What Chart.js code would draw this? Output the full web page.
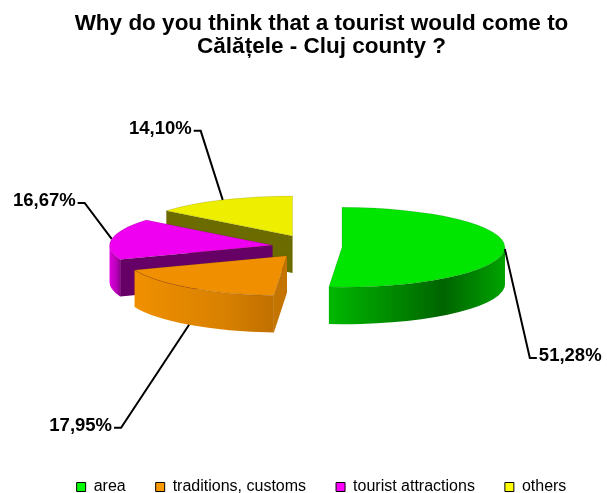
<!DOCTYPE html>
<html>
<head>
<meta charset="utf-8">
<script src="https://cdn.jsdelivr.net/npm/chart.js@4.4.1/dist/chart.umd.min.js"></script>
<style>
  html, body { margin: 0; padding: 0; background: #fff; }
  canvas { display: block; }
</style>
</head>
<body>
<canvas id="pie3d" width="607" height="493"></canvas>
<script>
var categories = ['area', 'traditions, customs', 'tourist attractions', 'others'];
var shares = [51.28, 17.95, 16.67, 14.10];

// slice styling: top face, outer wall shading (left, middle, right), radial cut face, legend swatch
var topColors = ['#00e600', '#f09000', '#f000f0', '#eeee00'];
var wallColors = [
  ['#00b800', '#006400', '#00a400'],
  ['#f09000', '#d88000', '#c07000'],
  ['#e000e0', '#b800b8', '#900090'],
  ['#cccc00', '#999900', '#777700']
];
var cutColors = ['#005c00', '#c47400', '#660066', '#6b6b00'];
var swatchColors = ['#00ff00', '#ff9900', '#ff00ff', '#ffff00'];

// leader line elbow relative to the slice anchor, and which side the text sits on
var leaders = [[25, 109, 1], [-68, 103, -1], [-27, -36, -1], [-22, -69, -1]];

Chart.defaults.font.family = '"Liberation Sans", Arial, sans-serif';

function formatShare(v) {
  return v.toFixed(2).replace('.', ',') + '%';
}

function drawSlice(ctx, s, k, depth) {
  var rx = s.r, ry = s.r * k;
  function pt(a) { return [s.cx + rx * Math.cos(a), s.cy + ry * Math.sin(a)]; }

  // radial cut faces, only the ones turned towards the viewer
  [[s.a0, Math.cos(s.a0) < 0], [s.a1, Math.cos(s.a1) > 0]].forEach(function (e) {
    if (!e[1]) return;
    var p = pt(e[0]);
    ctx.beginPath();
    ctx.moveTo(s.cx, s.cy);
    ctx.lineTo(p[0], p[1]);
    ctx.lineTo(p[0], p[1] + depth);
    ctx.lineTo(s.cx, s.cy + depth);
    ctx.closePath();
    ctx.fillStyle = cutColors[s.i];
    ctx.fill();
  });

  // outer wall, front half of the rim
  var w0 = Math.max(s.a0, 0), w1 = Math.min(s.a1, Math.PI);
  if (w1 > w0) {
    var xa = pt(w0)[0], xb = pt(w1)[0];
    var g = ctx.createLinearGradient(Math.min(xa, xb), 0, Math.max(xa, xb), 0);
    var wc = wallColors[s.i];
    g.addColorStop(0, wc[0]);
    g.addColorStop(0.65, wc[1]);
    g.addColorStop(1, wc[2]);
    ctx.beginPath();
    ctx.ellipse(s.cx, s.cy, rx, ry, 0, w0, w1, false);
    ctx.ellipse(s.cx, s.cy + depth, rx, ry, 0, w1, w0, true);
    ctx.closePath();
    ctx.fillStyle = g;
    ctx.fill();
  }

  // top face
  ctx.beginPath();
  ctx.moveTo(s.cx, s.cy);
  ctx.ellipse(s.cx, s.cy, rx, ry, 0, s.a0, s.a1, false);
  ctx.closePath();
  ctx.fillStyle = topColors[s.i];
  ctx.fill();
  ctx.strokeStyle = 'rgba(0,0,0,0.2)';
  ctx.lineWidth = 0.6;
  ctx.stroke();
}

function drawLeader(ctx, s, k, depth, value) {
  var ax = s.cx + s.r * Math.cos(s.mid);
  var ay = s.cy + s.r * k * Math.sin(s.mid) + (Math.sin(s.mid) > 0.5 ? depth : 0);
  var L = leaders[s.i];
  var ex = ax + L[0], ey = ay + L[1], side = L[2];
  ctx.beginPath();
  ctx.moveTo(ax, ay);
  ctx.lineTo(ex, ey);
  ctx.lineTo(ex + 7 * side, ey);
  ctx.strokeStyle = '#000';
  ctx.lineWidth = 2;
  ctx.stroke();
  ctx.font = 'bold 18.5px "Liberation Sans", Arial, sans-serif';
  ctx.fillStyle = '#000';
  ctx.textBaseline = 'middle';
  ctx.textAlign = side > 0 ? 'left' : 'right';
  ctx.fillText(formatShare(value), ex + 9 * side, ey - 2);
}

// draws the pie as tilted extruded slices instead of flat arcs
var pie3d = {
  id: 'pie3d',
  beforeDatasetsDraw: function (chart, args, opts) {
    var ctx = chart.ctx;
    var values = chart.data.datasets[0].data;
    var k = opts.tilt, depth = opts.depth;
    var slices = chart.getDatasetMeta(0).data.map(function (arc, i) {
      var mid = (arc.startAngle + arc.endAngle) / 2;
      var off = arc.options.offset || 0;
      return {
        i: i,
        a0: arc.startAngle,
        a1: arc.endAngle,
        mid: mid,
        r: arc.outerRadius,
        cx: arc.x + opts.shiftX + Math.cos(mid) * off,
        cy: arc.y + opts.shiftY + Math.sin(mid) * off * k
      };
    });
    ctx.save();
    slices.slice().sort(function (a, b) { return a.cy - b.cy; }).forEach(function (s) {
      drawSlice(ctx, s, k, depth);
    });
    slices.forEach(function (s) { drawLeader(ctx, s, k, depth, values[s.i]); });
    ctx.restore();
    return false;
  }
};

new Chart(document.getElementById('pie3d'), {
  type: 'pie',
  data: {
    labels: categories,
    datasets: [{
      data: shares,
      backgroundColor: topColors,
      offset: [28, 45, 42, 50],
      radius: 163,
      borderWidth: 0
    }]
  },
  options: {
    responsive: false,
    animation: false,
    layout: { padding: { left: 36, right: 0, top: 0, bottom: -12 } },
    plugins: {
      title: {
        display: true,
        text: ['Why do you think that a tourist would come to', 'Călățele - Cluj county ?'],
        color: '#000',
        font: { size: 22.5, weight: 'bold', lineHeight: 1.0 },
        padding: { top: 13, bottom: 0 }
      },
      legend: {
        position: 'bottom',
        labels: {
          boxWidth: 9,
          boxHeight: 9,
          padding: 30,
          color: '#000',
          font: { size: 16 },
          generateLabels: function (chart) {
            return chart.data.labels.map(function (label, i) {
              return { text: label, fillStyle: swatchColors[i], strokeStyle: '#000', lineWidth: 1, index: i, hidden: false };
            });
          }
        }
      },
      tooltip: { enabled: false },
      pie3d: { tilt: 0.245, depth: 37, shiftX: -7.5, shiftY: -6.5 }
    }
  },
  plugins: [pie3d]
});
</script>
</body>
</html>
